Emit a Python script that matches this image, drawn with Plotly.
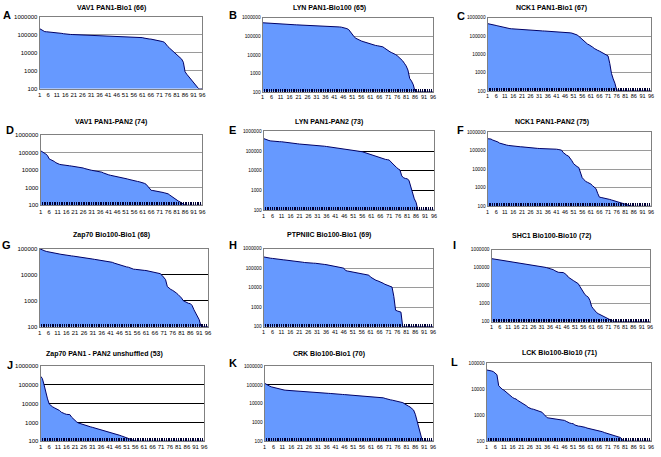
import plotly.graph_objects as go

W, H = 661, 457
X = list(range(1, 97))

LETTERS = ["A", "B", "C", "D", "E", "F", "G", "H", "I", "J", "K", "L"]
TITLES = [
    "VAV1 PAN1-Bio1 (66)", "LYN PAN1-Bio100 (65)", "NCK1 PAN1-Bio1 (67)",
    "VAV1 PAN1-PAN2 (74)", "LYN PAN1-PAN2 (73)", "NCK1 PAN1-PAN2 (75)",
    "Zap70 Bio100-Bio1 (68)", "PTPNIIC Bio100-Bio1 (69)", "SHC1 Bio100-Bio10 (72)",
    "Zap70 PAN1 - PAN2 unshuffled (53)", "CRK Bio100-Bio1 (70)", "LCK Bio100-Bio10 (71)",
]
Y_TICKS = [100, 1000, 10000, 100000, 1000000]
Y_TICK_TEXT = ["100", "1000", "10000", "100000", "1000000"]
X_TICK_TEXT = [str(v) if (v - 1) % 5 == 0 else "" for v in X]
FLOOR = 100

A_VALUES = [220000, 190000, 160000, 150000, 148000, 146000, 144000, 142000, 140000, 138000,
            135000, 130000, 125000, 120000, 115000, 110000, 108000, 106000, 105000, 104000,
            103000, 102000, 101000, 100000, 99000, 98000, 97000, 96500, 96000, 95500,
            95000, 94000, 93000, 92500, 92000, 91000, 90500, 90000, 89000, 88500,
            88000, 87000, 86500, 86000, 85000, 84500, 84000, 83500, 83000, 82500,
            82000, 81000, 80000, 79000, 78000, 77000, 75000, 73000, 72000, 71000,
            70000, 66000, 62000, 60000, 59000, 58000, 56000, 53000, 50000, 47000,
            45000, 44000, 42000, 38000, 28000, 22000, 18000, 15000, 12000, 10000,
            8500, 7000, 6000, 4500, 3000, 900, 650, 500, 380, 290,
            220, 165, 120, 100, 100, 100]
B_VALUES = [540000, 530000, 520000, 510000, 500000, 490000, 480000, 475000, 470000, 465000,
            460000, 455000, 450000, 445000, 440000, 435000, 430000, 425000, 420000, 415000,
            410000, 405000, 400000, 398000, 396000, 394000, 392000, 390000, 388000, 386000,
            384000, 382000, 380000, 378000, 376000, 374000, 372000, 370000, 365000, 360000,
            350000, 340000, 330000, 320000, 310000, 300000, 280000, 260000, 230000, 170000,
            120000, 95000, 78000, 68000, 60000, 56000, 52000, 48000, 45000, 41000,
            38000, 36000, 34000, 32000, 31000, 30000, 29000, 27000, 23000, 19000,
            16000, 14500, 13000, 12000, 10500, 9000, 7500, 6000, 4800, 3500,
            2500, 1500, 520, 380, 240, 100, 100, 100, 100, 100,
            100, 100, 100, 100, 100, 100]
C_VALUES = [480000, 450000, 420000, 400000, 390000, 380000, 360000, 340000, 320000, 300000,
            285000, 270000, 260000, 255000, 250000, 245000, 240000, 237000, 234000, 230000,
            226000, 222000, 218000, 215000, 212000, 210000, 207000, 204000, 201000, 198000,
            195000, 193000, 191000, 189000, 187000, 185000, 183000, 181000, 179000, 177000,
            175000, 172000, 169000, 166000, 163000, 160000, 157000, 154000, 150000, 145000,
            138000, 128000, 115000, 98000, 80000, 62000, 50000, 42000, 37000, 33000,
            30000, 25000, 21000, 18000, 16500, 15000, 13500, 12000, 10500, 9200,
            8200, 3200, 900, 450, 260, 110, 105, 100, 100, 100,
            100, 100, 100, 100, 100, 100, 100, 100, 100, 100,
            100, 100, 100, 100, 100, 100]
D_VALUES = [130000, 115000, 100000, 85000, 70000, 45000, 40000, 37000, 32000, 27000,
            23000, 22000, 21000, 20000, 19500, 19000, 18500, 18000, 17500, 17000,
            16500, 15500, 15000, 14500, 14000, 13500, 12500, 11500, 11000, 10500,
            10000, 9600, 9300, 9000, 8800, 8500, 7800, 7000, 6300, 5800,
            5500, 5200, 5000, 4800, 4600, 4400, 4200, 4000, 3800, 3600,
            3400, 3200, 3000, 2800, 2600, 2500, 2400, 2300, 2200, 2100,
            2000, 1800, 1600, 1200, 900, 720, 700, 680, 660, 640,
            620, 580, 540, 510, 480, 450, 380, 320, 270, 230,
            200, 175, 155, 135, 115, 100, 100, 100, 100, 100,
            100, 100, 100, 100, 100, 100]
E_VALUES = [430000, 390000, 360000, 340000, 325000, 315000, 310000, 305000, 300000, 297000,
            295000, 290000, 285000, 280000, 275000, 268000, 260000, 250000, 240000, 232000,
            226000, 223000, 220000, 218000, 216000, 214000, 211000, 208000, 205000, 202000,
            198000, 192000, 186000, 180000, 175000, 170000, 165000, 160000, 156000, 152000,
            149000, 146000, 143000, 140000, 137000, 134000, 130000, 125000, 120000, 116000,
            112000, 108000, 104000, 100000, 96000, 92000, 86000, 80000, 73000, 67000,
            62000, 58000, 54000, 50000, 46000, 43000, 41000, 39000, 37500, 36500,
            35000, 28000, 22000, 18000, 15000, 12500, 11000, 5500, 4400, 4100,
            3900, 3300, 1600, 720, 380, 250, 100, 100, 100, 100,
            100, 100, 100, 100, 100, 100]
F_VALUES = [450000, 440000, 430000, 380000, 355000, 330000, 300000, 260000, 240000, 225000,
            215000, 205000, 195000, 188000, 182000, 176000, 173000, 170000, 167000, 165000,
            163000, 158000, 153000, 149000, 146000, 143000, 141000, 139000, 137000, 135000,
            133000, 133000, 133000, 132000, 132000, 131000, 130000, 128000, 126000, 124000,
            122000, 118000, 113000, 108000, 80000, 65000, 57000, 52000, 40000, 29000,
            20000, 16000, 14000, 12500, 6000, 3500, 2800, 2200, 2000, 1800,
            1600, 1300, 1100, 900, 500, 310, 300, 290, 275, 260,
            250, 235, 220, 205, 192, 180, 170, 160, 150, 140,
            130, 122, 112, 100, 100, 100, 100, 100, 100, 100,
            100, 100, 100, 100, 100, 100]
G_VALUES = [100000, 92000, 87000, 82000, 78000, 75000, 73000, 71000, 69000, 67000,
            65000, 63000, 61000, 59000, 57500, 56000, 55000, 54000, 53000, 52000,
            51000, 50000, 49000, 48000, 47500, 47000, 45500, 44000, 42500, 41000,
            40000, 39000, 38000, 37000, 36500, 36000, 35000, 34000, 33000, 32500,
            32000, 30000, 28000, 26500, 25000, 24000, 23000, 22000, 21000, 20000,
            19500, 18000, 16500, 16300, 16100, 16000, 15600, 15200, 14900, 14700,
            14500, 14100, 13700, 13300, 12900, 12600, 12000, 11500, 11000, 9500,
            8100, 6500, 3500, 3000, 2700, 2500, 2300, 2000, 1750, 1550,
            1270, 1000, 900, 820, 790, 770, 650, 450, 340, 260,
            185, 100, 100, 100, 100, 100]
H_VALUES = [380000, 360000, 345000, 335000, 325000, 318000, 305000, 295000, 288000, 282000,
            278000, 270000, 265000, 260000, 256000, 252000, 245000, 237000, 230000, 224000,
            218000, 210000, 203000, 196000, 190000, 185000, 183000, 182000, 181000, 180000,
            178000, 172000, 167000, 162000, 157000, 153000, 148000, 142000, 136000, 130000,
            125000, 120000, 115000, 110000, 105000, 100000, 76000, 72000, 69000, 66000,
            63000, 61000, 59000, 57000, 55000, 53000, 51000, 49000, 46000, 44000,
            35000, 30000, 26000, 24000, 22500, 21000, 19000, 17000, 15000, 13500,
            12600, 11500, 10800, 3600, 700, 640, 620, 560, 100, 100,
            100, 100, 100, 100, 100, 100, 100, 100, 100, 100,
            100, 100, 100, 100, 100, 100]
I_VALUES = [320000, 310000, 300000, 290000, 283000, 275000, 262000, 250000, 238000, 228000,
            220000, 214000, 208000, 203000, 199000, 195000, 189000, 183000, 177000, 171000,
            165000, 161000, 157000, 153000, 149000, 145000, 139000, 134000, 128000, 123000,
            118000, 112000, 106000, 101000, 96000, 92000, 85000, 78000, 68000, 60000,
            56000, 55000, 54500, 54000, 47000, 40000, 30000, 25000, 22000, 19500,
            17000, 15000, 13000, 9000, 6000, 4300, 3200, 2700, 2300, 1500,
            700, 530, 380, 320, 280, 250, 220, 190, 170, 155,
            140, 125, 112, 105, 100, 100, 100, 100, 100, 100,
            100, 100, 100, 100, 100, 100, 100, 100, 100, 100,
            100, 100, 100, 100, 100, 100]
J_VALUES = [290000, 220000, 100000, 37000, 18000, 9500, 7600, 6700, 6000, 5500,
            5100, 4300, 3500, 3100, 2900, 2700, 2650, 2600, 1900, 1500,
            1250, 1050, 930, 860, 800, 760, 720, 670, 620, 580,
            550, 520, 490, 460, 435, 415, 390, 365, 340, 320,
            305, 285, 265, 250, 235, 220, 205, 190, 175, 160,
            150, 140, 130, 122, 112, 102, 100, 100, 100, 100,
            100, 100, 100, 100, 100, 100, 100, 100, 100, 100,
            100, 100, 100, 100, 100, 100, 100, 100, 100, 100,
            100, 100, 100, 100, 100, 100, 100, 100, 100, 100,
            100, 100, 100, 100, 100, 100]
K_VALUES = [122000, 105000, 93000, 85000, 78000, 73000, 68000, 64000, 60000, 57000,
            55000, 53500, 52000, 51000, 50000, 49000, 48000, 47000, 46000, 45000,
            44000, 43000, 42000, 41500, 41000, 40000, 39500, 39000, 38000, 37500,
            37000, 36800, 36600, 36400, 36200, 36000, 35500, 35000, 34000, 33500,
            33000, 32500, 32000, 31500, 31000, 30500, 30000, 29500, 29000, 28500,
            28000, 27500, 26500, 26000, 25500, 25000, 24500, 24000, 23500, 23000,
            23000, 22800, 22500, 22200, 22000, 21800, 21000, 20500, 19000, 17500,
            16700, 16000, 15400, 14800, 14200, 13700, 12800, 12000, 11300, 9800,
            8300, 7500, 6700, 5700, 4600, 2700, 1200, 550, 200, 100,
            100, 100, 100, 100, 100, 100]
L_VALUES = [55000, 54000, 53000, 50000, 47000, 40000, 36000, 13500, 11000, 10000,
            9200, 8000, 6900, 6000, 5300, 4800, 4400, 4200, 3700, 3400,
            3100, 2800, 2500, 2300, 2000, 1800, 1750, 1700, 1600, 1500,
            1400, 1350, 1300, 1100, 950, 800, 780, 760, 750, 745,
            740, 720, 700, 680, 650, 630, 580, 520, 500, 480,
            470, 420, 385, 380, 375, 370, 355, 340, 320, 310,
            300, 290, 280, 275, 265, 260, 245, 230, 215, 205,
            195, 185, 178, 172, 166, 160, 150, 140, 126, 100,
            100, 100, 100, 100, 100, 100, 100, 100, 100, 100,
            100, 100, 100, 100, 100, 100]

SERIES = [A_VALUES, B_VALUES, C_VALUES, D_VALUES, E_VALUES, F_VALUES,
          G_VALUES, H_VALUES, I_VALUES, J_VALUES, K_VALUES, L_VALUES]
Y_MAX_EXP = [6, 6, 6, 6, 6, 6, 5, 6, 6, 6, 6, 5]

# layout (pixels): plot rect left, right, top, bottom; title centre; letter position
RECTS = [(38, 202, 14, 87), (263, 435, 15, 90), (490, 655, 15, 89),
         (39, 202, 134, 205), (264, 436, 130, 210), (490, 655, 131, 206),
         (38, 208, 249, 328), (264, 435, 249, 328), (494, 654, 250, 323),
         (39, 204, 368, 444), (265, 435, 368, 444), (489, 655, 365, 444)]
TITLE_POS = [(110, 5), (330, 5), (555, 5), (110, 121), (330, 121), (555, 121),
             (110, 235), (330, 235), (555, 236), (103, 356), (330, 356), (563, 355)]
LETTER_POS = [(5, 12), (233, 12), (463, 13), (8, 129), (233, 129), (463, 129),
              (5, 245), (233, 245), (457, 245), (8, 367), (233, 365), (457, 364)]
BLACK_GRID = {"E", "G", "J", "K"}

FILL = "#6699FF"
LINE = "#000066"
FONT = "Liberation Sans, Arial, sans-serif"

fig = go.Figure()
layout = dict(width=W, height=H, autosize=False, margin=dict(l=0, r=0, t=0, b=0),
              paper_bgcolor="white", plot_bgcolor="white", showlegend=False,
              font=dict(family=FONT, color="black"))
annotations = []
for i, vals in enumerate(SERIES):
    n = "" if i == 0 else str(i + 1)
    xa, ya = "x" + n, "y" + n
    first_col = (i % 3 == 0)
    fig.add_trace(go.Scatter(x=X, y=[FLOOR] * len(X), xaxis=xa, yaxis=ya, mode="lines",
                             line=dict(width=0, color=FILL), hoverinfo="skip"))
    fig.add_trace(go.Scatter(x=X, y=vals, xaxis=xa, yaxis=ya, mode="lines", fill="tonexty",
                             fillcolor=FILL, line=dict(color=LINE, width=1)))
    l, r, t, b = RECTS[i]
    top = Y_MAX_EXP[i]
    gc = "#000000" if LETTERS[i] in BLACK_GRID else "#9a9a9a"
    layout["xaxis" + n] = dict(domain=[l / W, r / W], range=[1, 96], anchor=ya,
                               tickmode="array", tickvals=X, ticktext=X_TICK_TEXT,
                               ticks="" if i == 0 else "inside", ticklen=3, tickwidth=1,
                               tickcolor="#000033", tickangle=0,
                               tickfont=dict(size=6 if first_col else 5.5, family=FONT),
                               showgrid=False,
                               showline=True, linecolor="#808080", linewidth=1,
                               mirror=True, zeroline=False)
    layout["yaxis" + n] = dict(domain=[1 - b / H, 1 - t / H], type="log", range=[2, top],
                               anchor=xa, tickmode="array",
                               tickvals=Y_TICKS[:top - 1], ticktext=Y_TICK_TEXT[:top - 1],
                               ticks="", tickfont=dict(size=6 if first_col else 4.8, family=FONT),
                               showgrid=True, gridcolor=gc, gridwidth=1,
                               showline=True, linecolor="#808080", linewidth=1,
                               mirror=True, zeroline=False)
    tx, ty = TITLE_POS[i]
    annotations.append(dict(text="<b>" + TITLES[i] + "</b>", x=tx / W, y=1 - ty / H,
                            xref="paper", yref="paper", xanchor="center", yanchor="middle",
                            showarrow=False, font=dict(size=7, family=FONT)))
    lx, ly = LETTER_POS[i]
    annotations.append(dict(text="<b>" + LETTERS[i] + "</b>", x=lx / W, y=1 - ly / H,
                            xref="paper", yref="paper", xanchor="center", yanchor="middle",
                            showarrow=False, font=dict(size=11, family=FONT)))
layout["annotations"] = annotations
fig.update_layout(**layout)
fig.write_html("out.html", config={"displayModeBar": False},
               post_script="document.body.style.margin='0';document.body.style.overflow='hidden';")
